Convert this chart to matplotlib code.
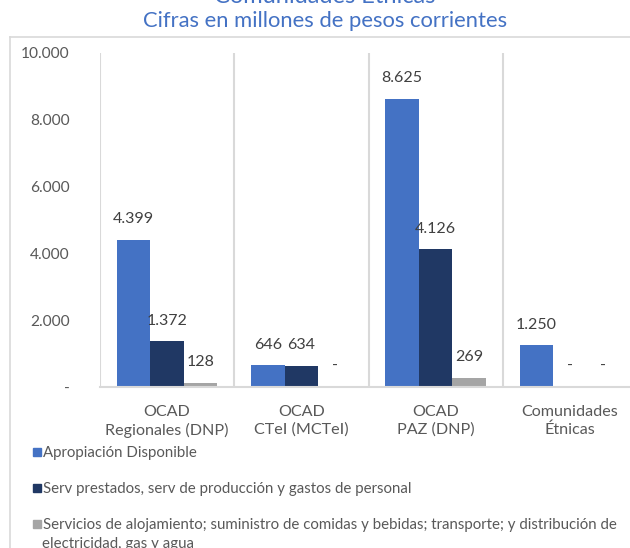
import matplotlib
matplotlib.use("Agg")
import matplotlib.pyplot as plt
from matplotlib.patches import Rectangle
from matplotlib.lines import Line2D

plt.rcParams['font.family'] = ['Lato', 'DejaVu Sans']

categories = ["OCAD\nRegionales (DNP)", "OCAD\nCTeI (MCTeI)", "OCAD\nPAZ (DNP)", "Comunidades\nÉtnicas"]
series_names = [
    "Apropiación Disponible",
    "Serv prestados, serv de producción y gastos de personal",
    "Servicios de alojamiento; suministro de comidas y bebidas; transporte; y distribución de\nelectricidad, gas y agua",
]
apropiacion = [4399, 646, 8625, 1250]
serv_prestados = [1372, 634, 4126, 0]
servicios_aloj = [128, 0, 269, 0]
yticks = [0, 2000, 4000, 6000, 8000, 10000]
ytick_labels = ["-", "2.000", "4.000", "6.000", "8.000", "10.000"]
title = "Comunidades Étnicas"
subtitle = "Cifras en millones de pesos corrientes"

colors = ["#4472C4", "#203864", "#A5A5A5"]
W, H = 630, 548
fig = plt.figure(figsize=(W / 100, H / 100), dpi=100)

# outer frame
fig.add_artist(Line2D([10 / W, 10 / W], [0, 1 - 37 / H], color="#D9D9D9", lw=1.2, transform=fig.transFigure))
fig.add_artist(Line2D([10 / W, 1], [1 - 37 / H, 1 - 37 / H], color="#D9D9D9", lw=1.2, transform=fig.transFigure))

fig.text(325 / W, 1 - 3 / H, title, ha="center", va="baseline", fontsize=17, color="#4472C4")
fig.text(325 / W, 1 - 27 / H, subtitle, ha="center", va="baseline", fontsize=15.8, color="#4472C4")

left, right, top, bottom = 100, 637, 53, 387
ax = fig.add_axes([left / W, 1 - bottom / H, (right - left) / W, (bottom - top) / H])
ax.set_xlim(0, len(categories))
ax.set_ylim(0, 10000)
for s in ["top", "left", "right"]:
    ax.spines[s].set_visible(False)
ax.spines["bottom"].set_color("#D9D9D9")
ax.spines["bottom"].set_linewidth(1.5)
for i in range(len(categories) + 1):
    ax.axvline(i, color="#D9D9D9", lw=1.5, zorder=0)

width = 0.25
all_series = [apropiacion, serv_prestados, servicios_aloj]
for k, vals in enumerate(all_series):
    xs = [i + 0.5 + (k - 1) * width for i in range(len(categories))]
    ax.bar(xs, vals, width=width, color=colors[k], zorder=2)
    for x, v in zip(xs, vals):
        lab = "-" if v == 0 else f"{v:,}".replace(",", ".")
        ax.annotate(lab, (x, v), xytext=(0, 12), textcoords="offset points",
                    ha="center", va="baseline", fontsize=11.5, color="#404040")

ax.set_yticks(yticks)
ax.set_yticklabels(ytick_labels)
ax.set_xticks([i + 0.5 for i in range(len(categories))])
ax.set_xticklabels(categories, linespacing=1.3)
ax.tick_params(axis="y", length=0, pad=22, labelsize=11.2, labelcolor="#595959")
ax.tick_params(axis="x", length=0, pad=13, labelsize=11.6, labelcolor="#595959")

# legend (manual)
leg_y = [452, 488, 524]
for name, c, y in zip(series_names, colors, leg_y):
    fig.add_artist(Rectangle((33 / W, 1 - (y + 4) / H), 8 / W, 8 / H, color=c, transform=fig.transFigure))
    for j, line in enumerate(name.split("\n")):
        fig.text((43 if j == 0 else 42) / W, 1 - (y + 5 + 19 * j) / H, line, ha="left", va="baseline",
                 fontsize=10.8, color="#595959")

fig.savefig("out.png", dpi=100)
